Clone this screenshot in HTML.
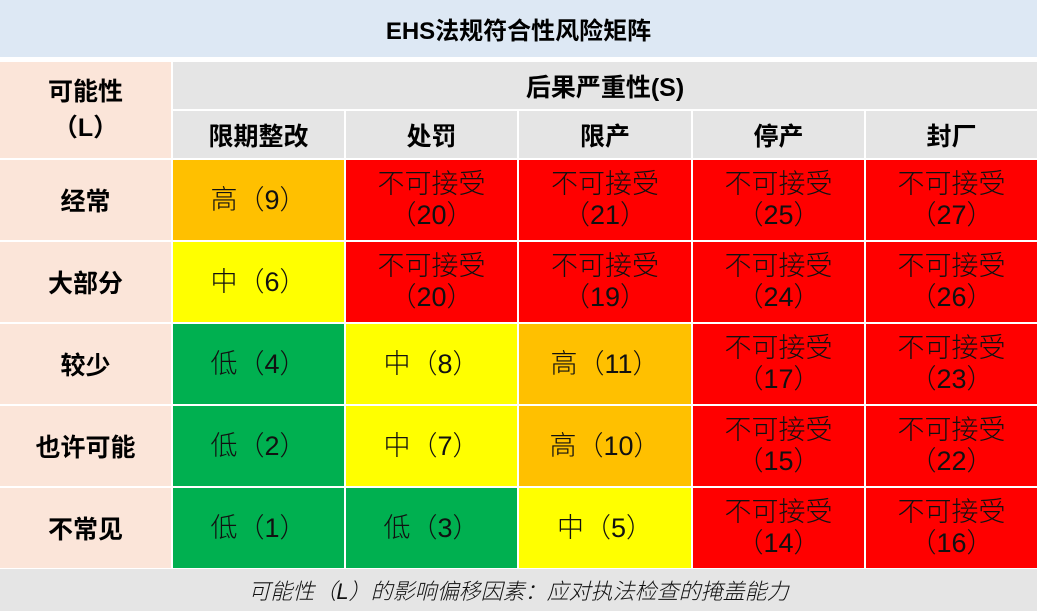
<!DOCTYPE html><html><head><meta charset="utf-8"><style>
body{margin:0;width:1040px;height:611px;background:#fff;position:relative;overflow:hidden;font-family:"Liberation Sans","Noto Sans CJK SC",sans-serif}
.c{position:absolute;display:flex;align-items:center;justify-content:center;text-align:center;box-sizing:border-box}
.h{font-weight:bold;font-size:25px;color:#000}
.v{font-size:27px;line-height:31px;color:#111;font-weight:300}
</style></head><body>
<div class="c h" style="left:0;top:0;width:1037px;height:57px;background:#dde8f4;font-size:24px">EHS法规符合性风险矩阵</div>
<div class="c h" style="left:0;top:62px;width:171px;height:96px;background:#fbe5d9;line-height:36px">可能性<br>（L）</div>
<div class="c h" style="left:173px;top:62px;width:864px;height:47px;background:#e5e5e5">后果严重性(S)</div>
<div id="g"></div>
<div class="c" style="left:0;top:569px;width:1037px;height:42px;background:#e5e5e5;font-style:italic;font-size:22px;color:#111;font-weight:300">可能性（L）的影响偏移因素：应对执法检查的掩盖能力</div>
<script>
var xs=[0,173,346,519,693,866],ws=[171,171,171,172,171,171];
var ys=[111,160,242,324,406,488],hs=[47,80,80,80,80,80];
var cols=["限期整改","处罚","限产","停产","封厂"];
var rows=["经常","大部分","较少","也许可能","不常见"];
var O="#ffc000",R="#ff0000",Y="#ffff00",G="#00b050";
var d=[[[O,"高（9）"],[R,20],[R,21],[R,25],[R,27]],
[[Y,"中（6）"],[R,20],[R,19],[R,24],[R,26]],
[[G,"低（4）"],[Y,"中（8）"],[O,"高（11）"],[R,17],[R,23]],
[[G,"低（2）"],[Y,"中（7）"],[O,"高（10）"],[R,15],[R,22]],
[[G,"低（1）"],[G,"低（3）"],[Y,"中（5）"],[R,14],[R,16]]];
var h="";
function cell(x,y,w,hh,bg,cls,t){h+='<div class="c '+cls+'" style="left:'+x+'px;top:'+y+'px;width:'+w+'px;height:'+hh+'px;background:'+bg+'">'+t+'</div>';}
for(var i=0;i<5;i++)cell(xs[i+1],ys[0],ws[i+1],hs[0],"#e5e5e5","h",cols[i]);
for(var r=0;r<5;r++){cell(0,ys[r+1],171,80,"#fbe5d9","h",rows[r]);
for(var i=0;i<5;i++){var e=d[r][i];var t=typeof e[1]=="number"?"不可接受<br>（"+e[1]+"）":e[1];cell(xs[i+1],ys[r+1],ws[i+1],80,e[0],"v",t);}}
document.getElementById("g").innerHTML=h;
</script>
</body></html>
